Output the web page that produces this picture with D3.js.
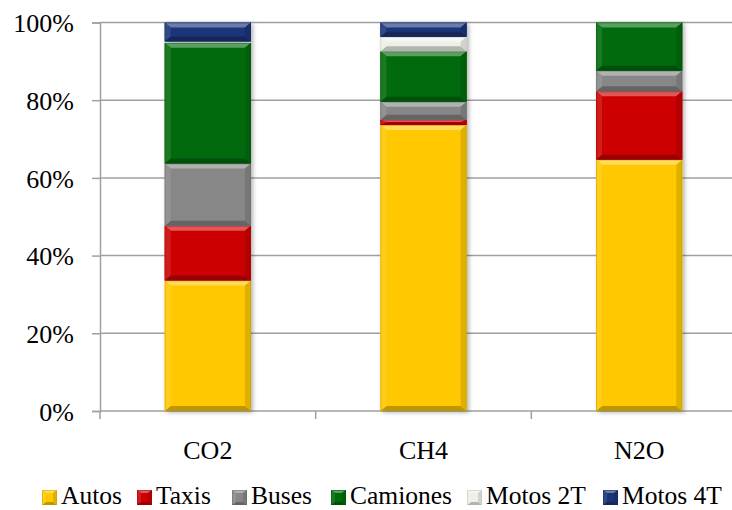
<!DOCTYPE html>
<html><head><meta charset="utf-8">
<script src="https://cdn.jsdelivr.net/npm/d3@7"></script>
<style>
html,body{margin:0;padding:0;background:#fff;}
svg text{font-family:"Liberation Serif","DejaVu Serif",serif !important;}
</style></head>
<body><svg id="chart" width="732" height="510"></svg>
<script>
const categories = ["CO2", "CH4", "N2O"];
const seriesNames = ["Autos", "Taxis", "Buses", "Camiones", "Motos 2T", "Motos 4T"];
const autos    = [33.6, 73.6, 64.7];
const taxis    = [14.1, 1.4, 17.6];
const buses    = [16.0, 4.6, 5.3];
const camiones = [31.1, 13.0, 12.4];
const motos2T  = [0.3, 3.7, 0];
const motos4T  = [4.9, 3.7, 0];
const yTicks = [0, 20, 40, 60, 80, 100];
const colors = ["#FFC800", "#CC0000", "#878787", "#006B0A", "#EFEFEA", "#1B3478"];

const seriesValues = [autos, taxis, buses, camiones, motos2T, motos4T];
const rows = categories.map((c, i) => {
  const r = {cat: c};
  seriesNames.forEach((s, j) => r[s] = seriesValues[j][i]);
  return r;
});
const stacked = d3.stack().keys(seriesNames)(rows);

const svg = d3.select("#chart");
const x = d3.scaleBand().domain(categories).range([100, 747]).paddingInner(0.6).paddingOuter(0.3);
const y = d3.scaleLinear().domain([0, 100]).range([411, 22.5]);

const defs = svg.append("defs");
const f = defs.append("filter").attr("id", "sh").attr("x", "-20%").attr("y", "-20%").attr("width", "140%").attr("height", "140%");
f.append("feDropShadow").attr("dx", 2).attr("dy", 1.5).attr("stdDeviation", 2).attr("flood-color", "#000").attr("flood-opacity", 0.3);

// gridlines
svg.append("g").selectAll("line").data(yTicks).join("line")
  .attr("x1", 100).attr("x2", 732)
  .attr("y1", d => y(d)).attr("y2", d => y(d))
  .attr("stroke", "#A0A0A0").attr("stroke-width", 1.5);

// y axis
const yAxis = svg.append("g").attr("transform", "translate(100,0)")
  .call(d3.axisLeft(y).tickValues(yTicks).tickSize(8).tickFormat(d => d + "%"));
yAxis.select(".domain").attr("stroke", "#A0A0A0").attr("stroke-width", 1.5);
yAxis.selectAll(".tick line").attr("stroke", "#A0A0A0").attr("stroke-width", 1.5);
yAxis.selectAll(".tick text").attr("x", -26).attr("dy", "0.36em")
  .attr("font-size", 26).attr("fill", "#000");

// x axis ticks at band boundaries
const step = x.step();
const xt = d3.range(0, categories.length + 1).map(i => 100 + i * step);
svg.append("g").selectAll("line").data(xt).join("line")
  .attr("x1", d => d).attr("x2", d => d).attr("y1", 411).attr("y2", 419)
  .attr("stroke", "#A0A0A0").attr("stroke-width", 1.5);
svg.append("g").selectAll("text").data(categories).join("text")
  .attr("x", d => x(d) + x.bandwidth() / 2).attr("y", 459)
  .attr("text-anchor", "middle").attr("font-size", 26).attr("fill", "#000")
  .text(d => d);

function bevel(g, x0, y0, w, h, color, bmax) {
  const light = d3.interpolateRgb(color, "#fff")(0.35);
  const dark = d3.interpolateRgb(color, "#000")(0.25);
  const sideL = d3.interpolateRgb(color, "#fff")(0.1);
  const sideR = d3.interpolateRgb(color, "#000")(0.12);
  const b = Math.min(bmax, w / 2);
  const bv = Math.min(bmax - 1, h / 2);
  const x1 = x0 + w, y1 = y0 + h;
  g.append("rect").attr("x", x0).attr("y", y0).attr("width", w).attr("height", h).attr("fill", color);
  const poly = (pts, fill) => g.append("polygon").attr("points", pts.map(p => p.join(",")).join(" ")).attr("fill", fill);
  poly([[x0, y0], [x1, y0], [x1 - b, y0 + bv], [x0 + b, y0 + bv]], light);
  poly([[x0, y1], [x1, y1], [x1 - b, y1 - bv], [x0 + b, y1 - bv]], dark);
  poly([[x0, y0], [x0 + b, y0 + bv], [x0 + b, y1 - bv], [x0, y1]], sideL);
  poly([[x1, y0], [x1 - b, y0 + bv], [x1 - b, y1 - bv], [x1, y1]], sideR);
  g.append("rect").attr("x", x0 + 0.5).attr("y", y0 + 0.5).attr("width", w - 1).attr("height", Math.max(0, h - 1))
    .attr("fill", "none").attr("stroke", dark).attr("stroke-opacity", 0.4).attr("stroke-width", 1);
}

const barsG = svg.append("g").attr("filter", "url(#sh)");
stacked.forEach((s, j) => {
  s.forEach((d, i) => {
    const h = y(d[0]) - y(d[1]);
    if (h <= 0) return;
    const g = barsG.append("g");
    bevel(g, x(categories[i]), y(d[1]), x.bandwidth(), h, colors[j], 6);
  });
});

// legend
const legendX = [42, 137, 232, 331, 467, 603];
const lg = svg.append("g");
seriesNames.forEach((s, j) => {
  const g = lg.append("g").attr("transform", `translate(${legendX[j]},0)`);
  bevel(g, 0, 490, 15, 15, colors[j], 4);
  g.append("text").attr("x", 19).attr("y", 504).attr("font-size", 25.5).attr("fill", "#000").text(s);
});
</script></body></html>
